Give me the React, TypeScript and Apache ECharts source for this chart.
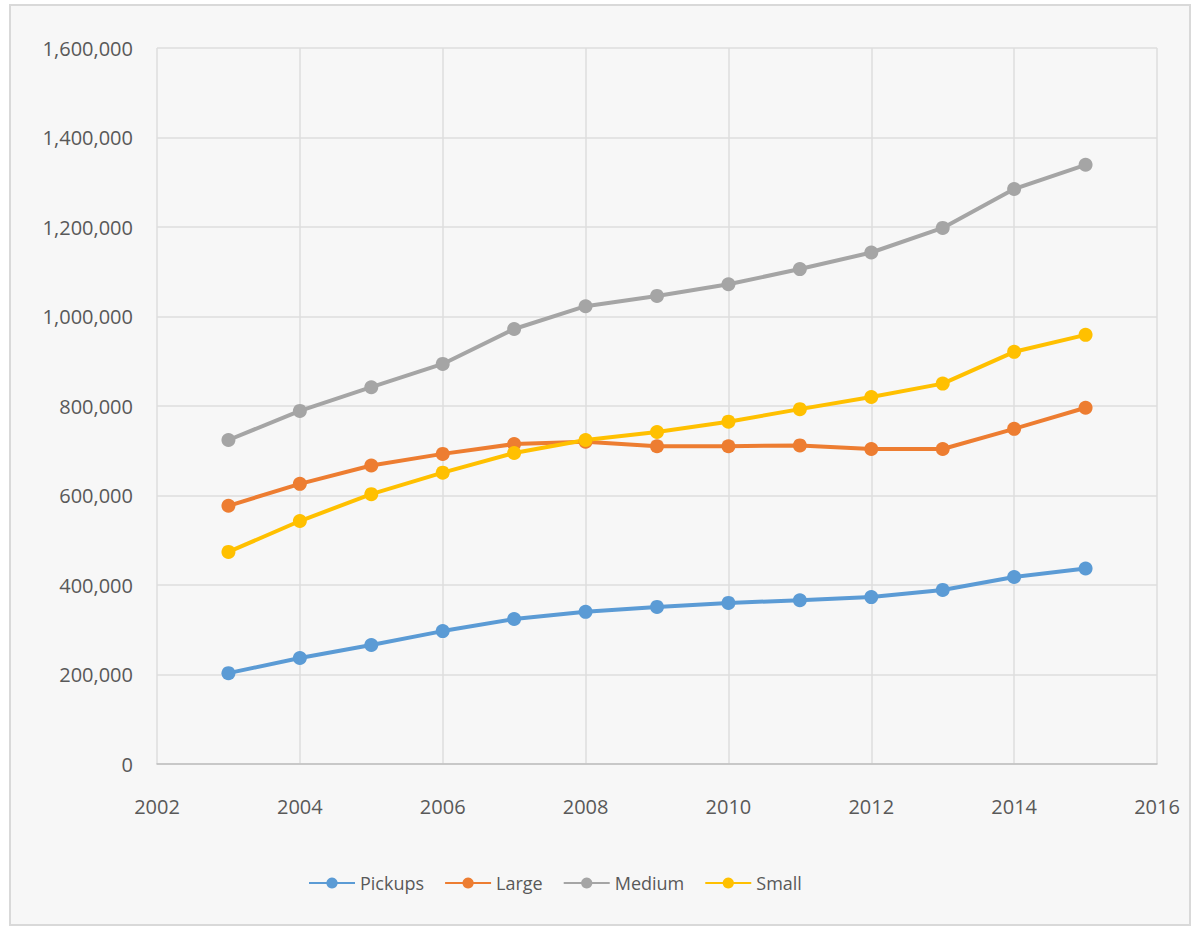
import React, { useEffect, useRef } from "react";
import * as echarts from "echarts";

const years = [2003, 2004, 2005, 2006, 2007, 2008, 2009, 2010, 2011, 2012, 2013, 2014, 2015];
const pickups = [203000, 237000, 266000, 297000, 324000, 340000, 351000, 360000, 366000, 373000, 389000, 418000, 437000];
const large = [577000, 626000, 667000, 693000, 715000, 720000, 710000, 710000, 712000, 704000, 704000, 749000, 796000];
const medium = [724000, 789000, 842000, 894000, 972000, 1023000, 1046000, 1072000, 1106000, 1143000, 1198000, 1285000, 1339000];
const small = [474000, 543000, 603000, 651000, 695000, 724000, 742000, 765000, 793000, 820000, 850000, 921000, 959000];

const seriesNames = ["Pickups", "Large", "Medium", "Small"];
const seriesValues = [pickups, large, medium, small];
const colors = ["#5B9BD5", "#ED7D31", "#A5A5A5", "#FFC000"];

const xMin = 2002;
const xMax = 2016;
const xStep = 2;
const yMin = 0;
const yMax = 1600000;
const yStep = 200000;

const FONT = "'Open Sans', 'Liberation Sans', sans-serif";

export default function App() {
  const ref = useRef<HTMLDivElement>(null);
  useEffect(() => {
    if (!ref.current) return;
    const chart = echarts.init(ref.current, undefined, { renderer: "svg" });
    chart.setOption({
      animation: false,
      backgroundColor: "#ffffff",
      graphic: [
        {
          type: "rect",
          z: -100,
          shape: { x: 10, y: 5, width: 1180, height: 920 },
          style: { fill: "#f7f7f7", stroke: "#d9d9d9", lineWidth: 2 },
        },
      ],
      grid: { left: 157, right: 42, top: 48, bottom: 167, containLabel: false },
      xAxis: {
        type: "value",
        min: xMin,
        max: xMax,
        interval: xStep,
        axisLine: { show: true, lineStyle: { color: "#bfbfbf", width: 1.5 } },
        axisTick: { show: false },
        splitLine: { show: true, lineStyle: { color: "#dedede", width: 1.5 } },
        axisLabel: {
          formatter: (v: number) => String(v),
          color: "#595959",
          fontSize: 20,
          fontFamily: FONT,
          margin: 32,
        },
      },
      yAxis: {
        type: "value",
        min: yMin,
        max: yMax,
        interval: yStep,
        axisLine: { show: false },
        axisTick: { show: false },
        splitLine: { show: true, lineStyle: { color: "#dedede", width: 1.5 } },
        axisLabel: {
          color: "#595959",
          fontSize: 20,
          fontFamily: FONT,
          margin: 24,
        },
      },
      legend: {
        top: 869,
        left: 303,
        itemWidth: 46,
        itemHeight: 14,
        itemGap: 20,
        textStyle: { color: "#595959", fontSize: 18, fontFamily: FONT },
        data: seriesNames,
      },
      series: seriesNames.map((name, i) => ({
        name,
        type: "line",
        data: years.map((y, j) => [y, seriesValues[i][j]]),
        symbol: "circle",
        symbolSize: 14,
        color: colors[i],
        lineStyle: { width: 4, color: colors[i] },
        itemStyle: { color: colors[i] },
      })),
    });
    return () => chart.dispose();
  }, []);
  return (
    <div
      ref={ref}
      style={{ position: "absolute", left: 0, top: 0, width: 1199, height: 931 }}
    />
  );
}
